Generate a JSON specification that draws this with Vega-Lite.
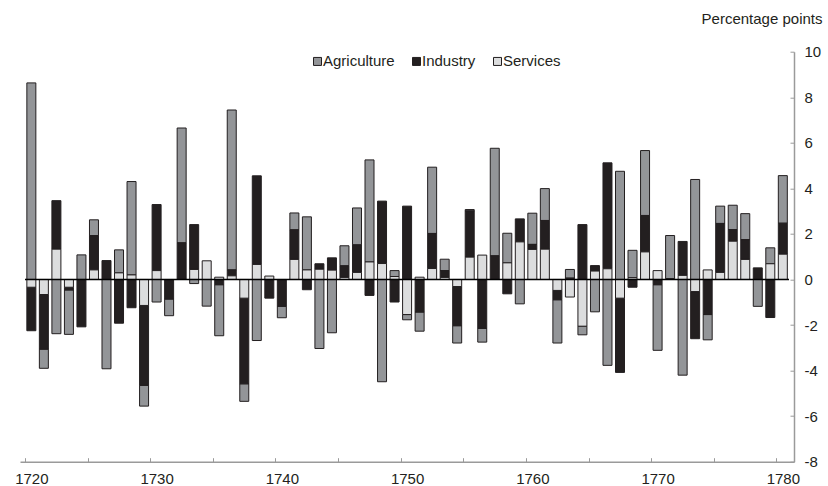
{
  "$schema": "https://vega.github.io/schema/vega-lite/v6.json",
  "width": 774,
  "height": 410,
  "autosize": "none",
  "padding": {"left": 20, "top": 51.7, "right": 34, "bottom": 24.3},
  "background": "white",
  "config": {
    "view": {"stroke": null},
    "font": "Liberation Sans"
  },
  "layer": [
    {
      "data": {
        "values": [
          {"year": 1720, "Agriculture": 8.63, "Industry": -1.91, "Services": -0.34},
          {"year": 1721, "Agriculture": -0.84, "Industry": -2.4, "Services": -0.66},
          {"year": 1722, "Agriculture": -2.38, "Industry": 2.13, "Services": 1.33},
          {"year": 1723, "Agriculture": -1.95, "Industry": -0.12, "Services": -0.34},
          {"year": 1724, "Agriculture": 1.08, "Industry": -2.08, "Services": 0},
          {"year": 1725, "Agriculture": 0.69, "Industry": 1.51, "Services": 0.42},
          {"year": 1726, "Agriculture": -3.92, "Industry": 0.83, "Services": 0},
          {"year": 1727, "Agriculture": 1.01, "Industry": -1.92, "Services": 0.29},
          {"year": 1728, "Agriculture": 4.1, "Industry": -1.24, "Services": 0.2},
          {"year": 1729, "Agriculture": -0.91, "Industry": -3.51, "Services": -1.14},
          {"year": 1730, "Agriculture": -0.99, "Industry": 2.9, "Services": 0.39},
          {"year": 1731, "Agriculture": -0.73, "Industry": -0.86, "Services": 0},
          {"year": 1732, "Agriculture": 5.04, "Industry": 1.61, "Services": 0},
          {"year": 1733, "Agriculture": -0.18, "Industry": 1.97, "Services": 0.44},
          {"year": 1734, "Agriculture": -1.17, "Industry": 0, "Services": 0.82},
          {"year": 1735, "Agriculture": -2.24, "Industry": -0.23, "Services": 0.1},
          {"year": 1736, "Agriculture": 7.02, "Industry": 0.26, "Services": 0.16},
          {"year": 1737, "Agriculture": -0.77, "Industry": -3.76, "Services": -0.82},
          {"year": 1738, "Agriculture": -2.68, "Industry": 3.89, "Services": 0.66},
          {"year": 1739, "Agriculture": 0, "Industry": -0.82, "Services": 0.15},
          {"year": 1740, "Agriculture": -0.5, "Industry": -1.18, "Services": 0},
          {"year": 1741, "Agriculture": 0.74, "Industry": 1.3, "Services": 0.88},
          {"year": 1742, "Agriculture": 2.33, "Industry": -0.45, "Services": 0.42},
          {"year": 1743, "Agriculture": -3.03, "Industry": 0.24, "Services": 0.45},
          {"year": 1744, "Agriculture": -2.34, "Industry": 0.54, "Services": 0.41},
          {"year": 1745, "Agriculture": 0.88, "Industry": 0.51, "Services": 0.09},
          {"year": 1746, "Agriculture": 1.62, "Industry": 1.21, "Services": 0.31},
          {"year": 1747, "Agriculture": 4.48, "Industry": -0.7, "Services": 0.77},
          {"year": 1748, "Agriculture": -4.49, "Industry": 2.74, "Services": 0.7},
          {"year": 1749, "Agriculture": 0.26, "Industry": -0.99, "Services": 0.13},
          {"year": 1750, "Agriculture": -0.23, "Industry": 3.22, "Services": -1.54},
          {"year": 1751, "Agriculture": -0.84, "Industry": -1.43, "Services": 0.1},
          {"year": 1752, "Agriculture": 2.91, "Industry": 1.54, "Services": 0.48},
          {"year": 1753, "Agriculture": 0.5, "Industry": 0.3, "Services": 0.09},
          {"year": 1754, "Agriculture": -0.76, "Industry": -1.72, "Services": -0.31},
          {"year": 1755, "Agriculture": 0.06, "Industry": 2.03, "Services": 0.98},
          {"year": 1756, "Agriculture": -0.6, "Industry": -2.15, "Services": 1.07},
          {"year": 1757, "Agriculture": 4.72, "Industry": 1.04, "Services": 0},
          {"year": 1758, "Agriculture": 1.3, "Industry": -0.63, "Services": 0.73},
          {"year": 1759, "Agriculture": -1.07, "Industry": 1.01, "Services": 1.65},
          {"year": 1760, "Agriculture": 1.37, "Industry": 0.22, "Services": 1.32},
          {"year": 1761, "Agriculture": 1.4, "Industry": 1.26, "Services": 1.33},
          {"year": 1762, "Agriculture": -1.9, "Industry": -0.41, "Services": -0.48},
          {"year": 1763, "Agriculture": 0.38, "Industry": 0.06, "Services": -0.77},
          {"year": 1764, "Agriculture": -0.38, "Industry": 2.41, "Services": -2.05},
          {"year": 1765, "Agriculture": -1.42, "Industry": 0.24, "Services": 0.37},
          {"year": 1766, "Agriculture": -3.77, "Industry": 4.65, "Services": 0.47},
          {"year": 1767, "Agriculture": 4.75, "Industry": -3.26, "Services": -0.82},
          {"year": 1768, "Agriculture": 1.2, "Industry": -0.34, "Services": 0.08},
          {"year": 1769, "Agriculture": 2.85, "Industry": 1.6, "Services": 1.21},
          {"year": 1770, "Agriculture": -2.88, "Industry": -0.23, "Services": 0.39},
          {"year": 1771, "Agriculture": 1.89, "Industry": 0, "Services": 0.04},
          {"year": 1772, "Agriculture": -4.2, "Industry": 1.49, "Services": 0.18},
          {"year": 1773, "Agriculture": 4.39, "Industry": -2.07, "Services": -0.53},
          {"year": 1774, "Agriculture": -1.11, "Industry": -1.54, "Services": 0.42},
          {"year": 1775, "Agriculture": 0.76, "Industry": 2.15, "Services": 0.31},
          {"year": 1776, "Agriculture": 1.07, "Industry": 0.51, "Services": 1.68},
          {"year": 1777, "Agriculture": 1.14, "Industry": 0.87, "Services": 0.88},
          {"year": 1778, "Agriculture": -1.18, "Industry": 0.51, "Services": 0},
          {"year": 1779, "Agriculture": 0.7, "Industry": -1.67, "Services": 0.69},
          {"year": 1780, "Agriculture": 2.09, "Industry": 1.36, "Services": 1.11}
        ]
      },
      "transform": [
        {"fold": ["Agriculture", "Industry", "Services"], "as": ["sector", "value"]},
        {"filter": "datum.value != 0"}
      ],
      "mark": {"type": "bar", "size": 9, "stroke": "#231f20", "strokeWidth": 1, "xOffset": 6.35},
      "encoding": {
        "x": {
          "field": "year",
          "type": "quantitative",
          "scale": {"domain": [1720, 1781], "nice": false, "zero": false},
          "axis": {
            "values": [1720, 1725, 1730, 1735, 1740, 1745, 1750, 1755, 1760, 1765, 1770, 1775, 1780],
            "format": "d",
            "labelExpr": "datum.value % 10 === 0 ? datum.label : ''",
            "title": null,
            "grid": false,
            "domainColor": "#9a9a9a",
            "domainWidth": 1.5,
            "tickColor": "#9a9a9a",
            "tickWidth": 1,
            "tickSize": -4,
            "labelOffset": 6.35,
            "labelPadding": 14,
            "labelFontSize": 15,
            "labelColor": "#231f20",
            "labelFlush": false,
            "labelOverlap": false
          }
        },
        "y": {
          "field": "value",
          "type": "quantitative",
          "stack": "zero",
          "scale": {"domain": [-8, 10], "nice": false},
          "axis": {
            "orient": "right",
            "values": [-8, -6, -4, -2, 0, 2, 4, 6, 8, 10],
            "labelExpr": "datum.value + ''",
            "title": "Percentage points",
            "titleAngle": 0,
            "titleX": 28,
            "titleY": -28,
            "titleAlign": "right",
            "titleBaseline": "alphabetic",
            "titleFontSize": 15,
            "titleFontWeight": "normal",
            "titleColor": "#231f20",
            "grid": false,
            "domainColor": "#9a9a9a",
            "domainWidth": 1.5,
            "tickColor": "#9a9a9a",
            "tickSize": -4,
            "labelAlign": "left",
            "labelBaseline": "middle",
            "labelPadding": 14,
            "labelFontSize": 15,
            "labelColor": "#231f20"
          }
        },
        "color": {
          "field": "sector",
          "type": "nominal",
          "scale": {"domain": ["Agriculture", "Industry", "Services"], "range": ["#939598", "#231f20", "#dcddde"]},
          "legend": {
            "title": null,
            "orient": "none",
            "legendX": 290,
            "legendY": 2,
            "direction": "horizontal",
            "symbolType": "square",
            "symbolSize": 64,
            "symbolStrokeColor": "#231f20",
            "symbolStrokeWidth": 1,
            "labelFontSize": 15,
            "labelOffset": -2,
            "labelColor": "#231f20",
            "columnPadding": 14,
            "padding": 0
          }
        },
        "order": {"field": "sector", "sort": "descending"}
      }
    },
    {
      "data": {"values": [{}]},
      "mark": {"type": "rule", "color": "#000000", "strokeWidth": 1.5},
      "encoding": {
        "y": {"datum": 0},
        "x": {"datum": 1720},
        "x2": {"datum": 1781}
      }
    }
  ]
}
